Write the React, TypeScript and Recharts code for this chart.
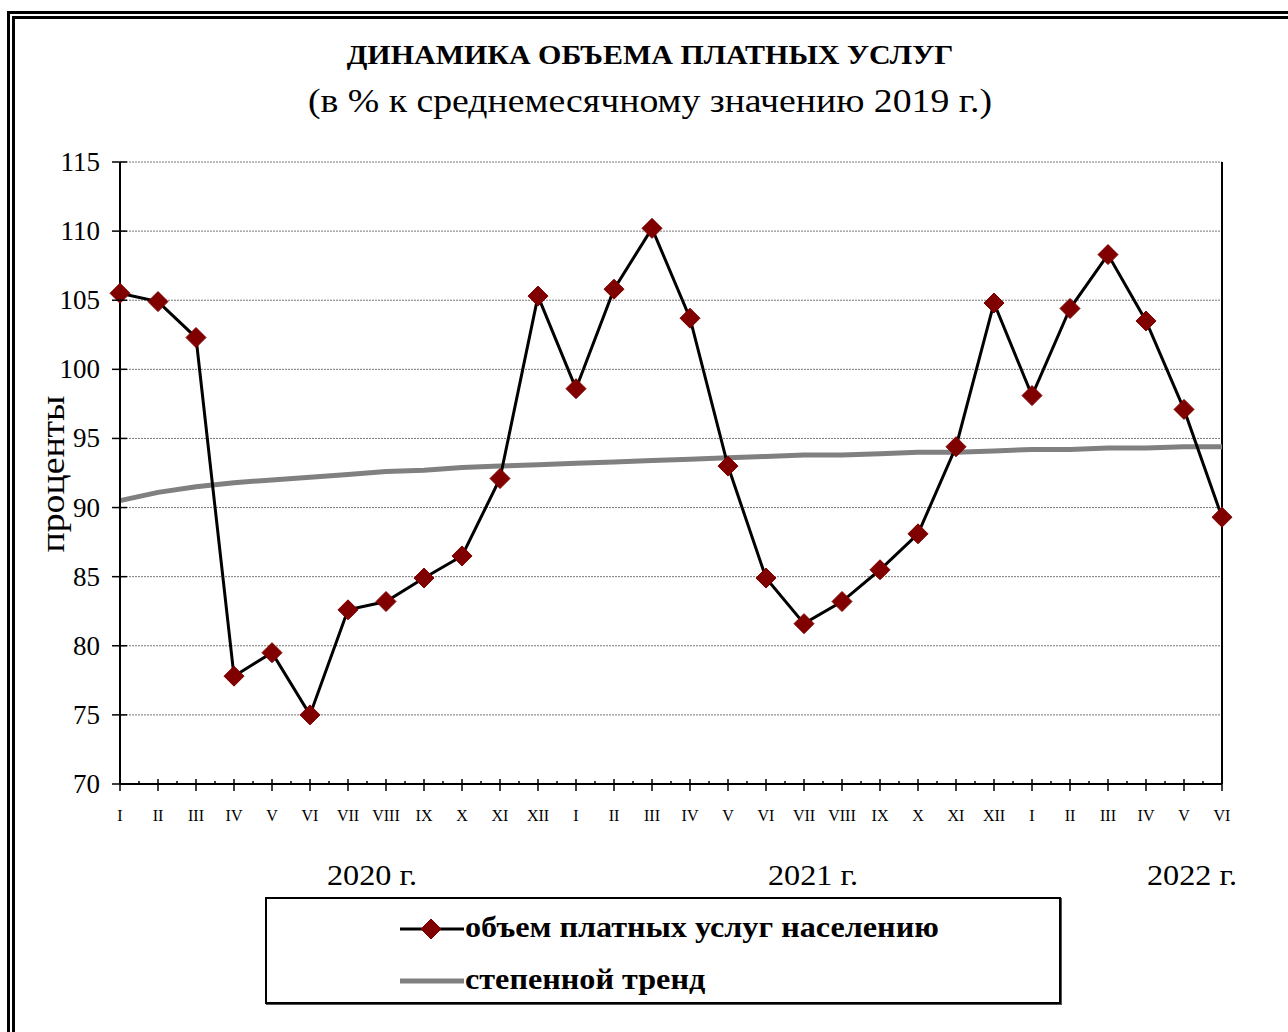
import React from "react";
import { LineChart, Line, XAxis, YAxis, CartesianGrid, ReferenceLine } from "recharts";

// months I.2020 .. VI.2022
const months = [
  "I", "II", "III", "IV", "V", "VI", "VII", "VIII", "IX", "X", "XI", "XII",
  "I", "II", "III", "IV", "V", "VI", "VII", "VIII", "IX", "X", "XI", "XII",
  "I", "II", "III", "IV", "V", "VI",
];
const years = [
  2020, 2020, 2020, 2020, 2020, 2020, 2020, 2020, 2020, 2020, 2020, 2020,
  2021, 2021, 2021, 2021, 2021, 2021, 2021, 2021, 2021, 2021, 2021, 2021,
  2022, 2022, 2022, 2022, 2022, 2022,
];
const services = [
  105.5, 104.9, 102.3, 77.8, 79.5, 75.0, 82.6, 83.2, 84.9, 86.5, 92.1, 105.3,
  98.6, 105.8, 110.2, 103.7, 93.0, 84.9, 81.6, 83.2, 85.5, 88.1, 94.4, 104.8,
  98.1, 104.4, 108.3, 103.5, 97.1, 89.3,
];
const trend = [
  90.5, 91.1, 91.5, 91.8, 92.0, 92.2, 92.4, 92.6, 92.7, 92.9, 93.0, 93.1,
  93.2, 93.3, 93.4, 93.5, 93.6, 93.7, 93.8, 93.8, 93.9, 94.0, 94.0, 94.1,
  94.2, 94.2, 94.3, 94.3, 94.4, 94.4,
];
const yTicks = [70, 75, 80, 85, 90, 95, 100, 105, 110, 115];
const yearLabels = [
  { text: "2020 г.", left: 372 },
  { text: "2021 г.", left: 813 },
  { text: "2022 г.", left: 1192 },
];

const data = months.map((m, i) => ({
  key: `${m}-${years[i]}`,
  m,
  v: services[i],
  t: trend[i],
}));

const FONT = "'Liberation Serif', 'Times New Roman', serif";
const W = 1288;
const H = 1032;
const plotLeft = 120;
const plotRight = 1222;
const step = (plotRight - plotLeft) / (data.length - 1);
const STRETCH = 1.11; // the original picture is a bit wider than tall

const XTick = (props: any) => {
  const { x, y, payload, index } = props;
  const label = data[index] ? data[index].m : payload.value.split("-")[0];
  const last = index === data.length - 1;
  return (
    <g>
      <line x1={x} x2={x} y1={y - 5} y2={y + 7} stroke="#000" strokeWidth={1.5} />
      {!last && (
        <line x1={x + step / 2} x2={x + step / 2} y1={y - 3} y2={y} stroke="#000" strokeWidth={1.5} />
      )}
      <text x={x} y={y + 37} textAnchor="middle" fontFamily={FONT} fontSize={16} fill="#000">
        {label}
      </text>
    </g>
  );
};

const YTick = (props: any) => {
  const { x, y, payload } = props;
  return (
    <g>
      <line x1={x - 8} x2={x + 7} y1={y} y2={y} stroke="#000" strokeWidth={1.5} />
      <text x={x - 20} y={y + 9} textAnchor="end" fontFamily={FONT} fontSize={27} fill="#000">
        {payload.value}
      </text>
    </g>
  );
};

const Diamond = (props: any) => {
  const { cx, cy } = props;
  if (cx == null || cy == null) return null;
  const r = 10;
  return (
    <polygon
      points={`${cx},${cy - r} ${cx + r},${cy} ${cx},${cy + r} ${cx - r},${cy}`}
      fill="#800000"
      stroke="#800000"
    />
  );
};

export default function App() {
  return (
    <div
      style={{
        position: "absolute",
        left: 0,
        top: 0,
        width: W,
        height: H,
        overflow: "hidden",
        background: "#fff",
        fontFamily: FONT,
      }}
    >
      <div
        style={{
          position: "absolute",
          left: 7,
          top: 11,
          width: 1400,
          height: 1100,
          border: "8px double #000",
        }}
      />
      <div
        style={{
          position: "absolute",
          left: 0,
          width: 1300,
          top: 40,
          textAlign: "center",
          fontWeight: "bold",
          fontSize: 27,
          transform: `scaleX(${STRETCH})`,
        }}
      >
        ДИНАМИКА ОБЪЕМА ПЛАТНЫХ УСЛУГ
      </div>
      <div
        style={{
          position: "absolute",
          left: 0,
          width: 1300,
          top: 82,
          textAlign: "center",
          fontSize: 34,
          transform: `scaleX(${STRETCH})`,
        }}
      >
        (в % к среднемесячному значению 2019 г.)
      </div>
      <div
        style={{
          position: "absolute",
          left: 53,
          top: 474,
          transform: `translate(-50%, -50%) rotate(-90deg) scaleX(${STRETCH})`,
          fontSize: 34,
          whiteSpace: "nowrap",
        }}
      >
        проценты
      </div>

      <div style={{ position: "absolute", left: 0, top: 0 }}>
        <LineChart
          width={W}
          height={H}
          data={data}
          margin={{ top: 162, right: W - plotRight, bottom: 208, left: 60 }}
        >
          <CartesianGrid
            horizontal
            vertical={false}
            stroke="#777"
            strokeDasharray="2 1"
            strokeWidth={1}
          />
          <XAxis
            dataKey="key"
            type="category"
            interval={0}
            padding={{ left: 0, right: 0 }}
            axisLine={{ stroke: "#000", strokeWidth: 2 }}
            tickLine={false}
            tickSize={0}
            tickMargin={0}
            height={40}
            tick={<XTick />}
          />
          <YAxis
            domain={[70, 115]}
            ticks={yTicks}
            interval={0}
            width={60}
            axisLine={{ stroke: "#000", strokeWidth: 2 }}
            tickLine={false}
            tickSize={0}
            tickMargin={0}
            tick={<YTick />}
            allowDataOverflow
          />
          <ReferenceLine x={data[data.length - 1].key} stroke="#000" strokeWidth={2} />
          <Line
            dataKey="t"
            type="linear"
            stroke="#808080"
            strokeWidth={5}
            dot={false}
            activeDot={false}
            isAnimationActive={false}
          />
          <Line
            dataKey="v"
            type="linear"
            stroke="#000"
            strokeWidth={3}
            dot={<Diamond />}
            activeDot={false}
            isAnimationActive={false}
          />
        </LineChart>
      </div>

      {yearLabels.map((y) => (
        <div
          key={y.text}
          style={{
            position: "absolute",
            left: y.left,
            top: 875,
            transform: `translate(-50%, -50%) scaleX(${STRETCH})`,
            fontSize: 29,
            whiteSpace: "nowrap",
          }}
        >
          {y.text}
        </div>
      ))}

      <div
        style={{
          position: "absolute",
          left: 265,
          top: 897,
          width: 792,
          height: 103,
          border: "2px solid #000",
          boxShadow: "1px 1px 0 #555",
        }}
      >
        <svg style={{ position: "absolute", left: 133, top: 16 }} width={64} height={80}>
          <line x1={0} x2={64} y1={14} y2={14} stroke="#000" strokeWidth={3} />
          <Diamond cx={31} cy={14} />
          <line x1={0} x2={64} y1={66} y2={66} stroke="#808080" strokeWidth={5} />
        </svg>
        <div
          style={{
            position: "absolute",
            left: 198,
            top: 28,
            transform: `translateY(-50%) scaleX(${STRETCH})`,
            transformOrigin: "left center",
            fontWeight: "bold",
            fontSize: 29,
            whiteSpace: "nowrap",
          }}
        >
          объем платных услуг населению
        </div>
        <div
          style={{
            position: "absolute",
            left: 198,
            top: 80,
            transform: `translateY(-50%) scaleX(${STRETCH})`,
            transformOrigin: "left center",
            fontWeight: "bold",
            fontSize: 29,
            whiteSpace: "nowrap",
          }}
        >
          степенной тренд
        </div>
      </div>
    </div>
  );
}
